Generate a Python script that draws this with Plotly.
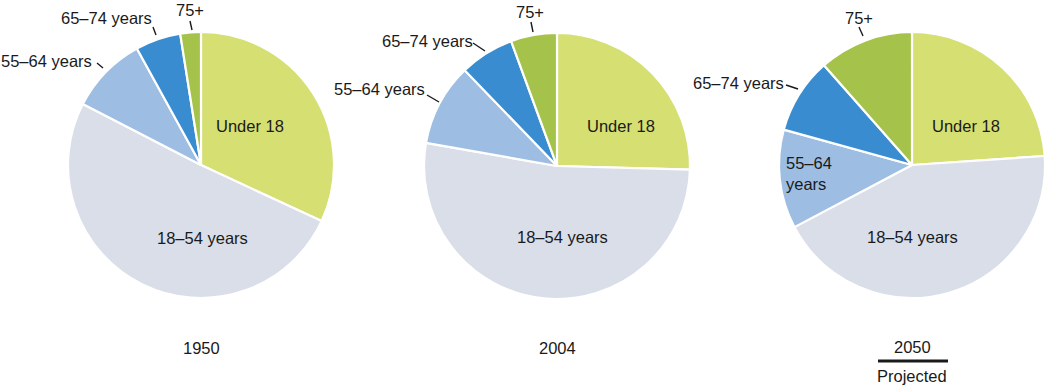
import plotly.graph_objects as go

W, H = 1049, 385

categories = ["Under 18", "18–54 years", "55–64 years", "65–74 years", "75+"]
years = ["1950", "2004", "2050"]
values_1950 = [31.9, 50.6, 9.4, 5.5, 2.5]
values_2004 = [25.4, 52.3, 10.0, 6.6, 5.6]
values_2050 = [23.9, 43.3, 12.0, 9.2, 11.5]
colors = ["#d5df72", "#d9dee9", "#9dbde2", "#3a8cd0", "#a5c24a"]

def px(x):
    return x / W

def py(y):
    return 1 - y / H

# pie placement (pixel centre, radius)
pie_geom = [(201, 165, 133), (557, 166, 133), (912, 165, 133)]
all_values = [values_1950, values_2004, values_2050]

fig = go.Figure()
for vals, (cx, cy, r) in zip(all_values, pie_geom):
    fig.add_trace(go.Pie(
        labels=categories, values=vals, sort=False, direction="clockwise",
        rotation=0, textinfo="none", hoverinfo="skip", showlegend=False,
        marker=dict(colors=colors, line=dict(color="white", width=2.2)),
        domain=dict(x=[px(cx - r), px(cx + r)], y=[py(cy + r), py(cy - r)]),
    ))

FONT = dict(family="Liberation Sans, Arial, sans-serif", size=16.5, color="#1a1a1a")
annotations = []

def label(text, x, y, xanchor="center"):
    if xanchor == "right":
        x += 2
    elif xanchor == "left":
        x -= 2
    annotations.append(dict(text=text, x=px(x), y=py(y), xref="paper", yref="paper",
                            xanchor=xanchor, yanchor="middle", showarrow=False,
                            font=FONT, align="left", borderpad=0))

shapes = []

def tick(x0, y0, x1, y1, w=1.4):
    shapes.append(dict(type="line", xref="paper", yref="paper",
                       x0=px(x0), y0=py(y0), x1=px(x1), y1=py(y1),
                       line=dict(color="#1a1a1a", width=w)))

# 1950
label("Under 18", 250, 126)
label("18–54 years", 202, 238)
label("55–64 years", 91, 61, "right")
label("65–74 years", 151, 18, "right")
label("75+", 190, 10)
tick(97, 63, 103, 68)
tick(153, 27, 156, 35)
tick(190, 21, 192, 30)

# 2004
label("Under 18", 621, 126)
label("18–54 years", 562, 237)
label("55–64 years", 424, 89, "right")
label("65–74 years", 472, 41, "right")
label("75+", 530, 12)
tick(427, 95, 439, 102)
tick(473, 43, 485, 51)
tick(531, 22, 533, 32)

# 2050
label("Under 18", 966, 126)
label("18–54 years", 912, 237)
label("55–64<br>years", 787, 173, "left")
label("65–74 years", 783, 83, "right")
label("75+", 859, 18)
tick(786, 85, 798, 89)
tick(859, 27, 863, 36)

# year captions
label(years[0], 201, 348)
label(years[1], 557, 348)
label(years[2], 912, 347)
label("Projected", 912, 376)
tick(878, 361, 948, 361, w=3)

fig.update_layout(width=W, height=H, margin=dict(l=0, r=0, t=0, b=0),
                  paper_bgcolor="white", plot_bgcolor="white",
                  annotations=annotations, shapes=shapes)

fig.write_html("out.html", config={"displayModeBar": False},
               post_script="document.body.style.margin='0';document.body.style.overflow='hidden';")
